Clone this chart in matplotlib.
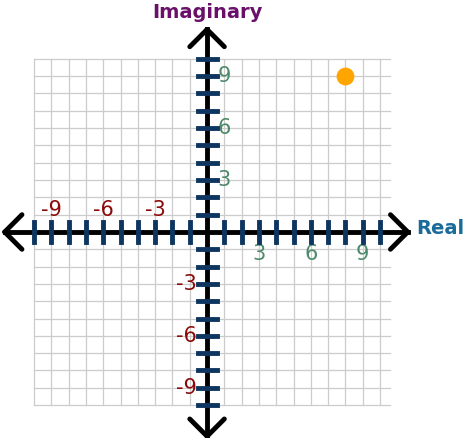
import matplotlib
matplotlib.use("Agg")
import matplotlib.pyplot as plt

ticks = list(range(-10, 11))
label_pos = [3, 6, 9]
label_neg = [-9, -6, -3]
point_re = [8]
point_im = [9]

fig = plt.figure(figsize=(4.74, 4.38), dpi=100)
ax = fig.add_axes([0, 0, 1, 1])
ax.set_xlim(-11.97, 15.43)
ax.set_ylim(-11.9, 13.4)
ax.axis("off")

# grid
for t in ticks:
    ax.plot([t, t], [-10, 10], color="#cccccc", lw=0.9, zorder=1)
    ax.plot([-10, 10.6], [t, t], color="#cccccc", lw=0.9, zorder=1)

# axes with arrows
ax.annotate("", xy=(11.6, 0), xytext=(-11.8, 0),
            arrowprops=dict(arrowstyle="<|-|>,head_length=0.0,head_width=0.0", lw=3.5, color="black"), zorder=3)
ax.plot([-11.7, 11.6], [0, 0], color="black", lw=3.5, zorder=3)
ax.plot([0, 0], [-11.8, 11.7], color="black", lw=3.5, zorder=3)
for (x0, y0, dx, dy) in [(-11.7, 0, 1, 1), (-11.7, 0, 1, -1), (11.6, 0, -1, 1), (11.6, 0, -1, -1),
                         (0, 11.7, 1, -1), (0, 11.7, -1, -1), (0, -11.8, 1, 1), (0, -11.8, -1, 1)]:
    ax.plot([x0, x0 + dx], [y0, y0 + dy], color="black", lw=3.5, solid_capstyle="round", zorder=3)

# tick marks
for t in ticks:
    if t == 0:
        continue
    ax.plot([t, t], [-0.55, 0.55], color="#0d3560", lw=3.5, zorder=4)
    ax.plot([-0.55, 0.55], [t, t], color="#0d3560", lw=3.5, zorder=4)

green = "#4d8a6a"
red = "#8b0a0a"
for v in label_pos:
    ax.text(v, -1.3, str(v), color=green, fontsize=15, ha="center", va="center")
    ax.text(1.0, v, str(v), color=green, fontsize=15, ha="center", va="center")
for v in label_neg:
    ax.text(v, 1.25, str(v), color=red, fontsize=15, ha="center", va="center")
    ax.text(-1.2, v, str(v), color=red, fontsize=15, ha="center", va="center")

ax.text(12.1, 0.2, "Real", color="#1a6a9a", fontsize=14, fontweight="bold", ha="left", va="center")
ax.text(0, 12.65, "Imaginary", color="#6a106a", fontsize=14, fontweight="bold", ha="center", va="center")

ax.scatter(point_re, point_im, s=140, color="#ffa500", zorder=5)

fig.savefig("out.png", dpi=100)
